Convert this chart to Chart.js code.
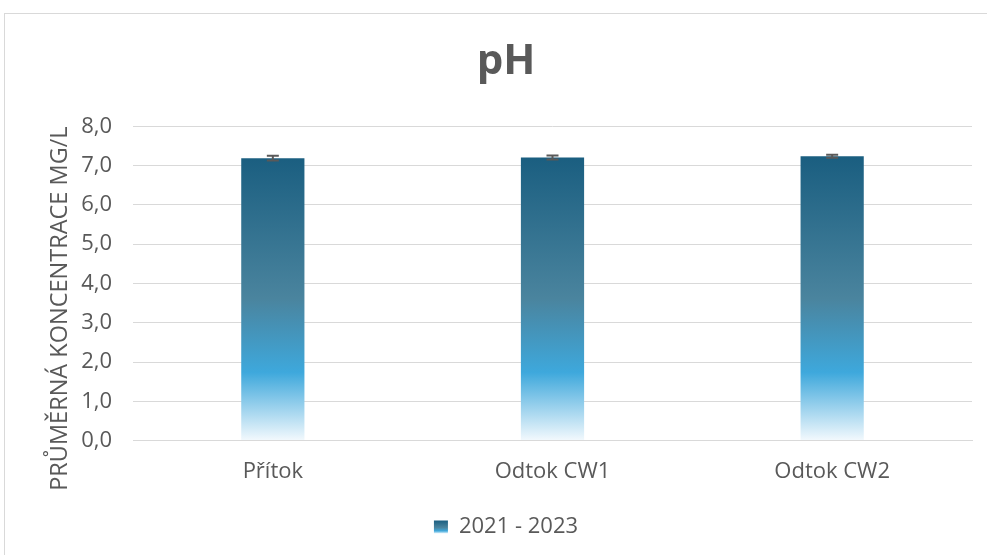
<!DOCTYPE html>
<html>
<head>
<meta charset="utf-8">
<script src="https://cdn.jsdelivr.net/npm/chart.js@4"></script>
<style>
  html, body { margin: 0; padding: 0; background: #fff; overflow: hidden; }
  #wrap { position: relative; width: 987px; height: 555px; }
  #frame { position: absolute; left: 4px; top: 13px; width: 1100px; height: 700px; border: 1px solid #d9d9d9; box-sizing: border-box; }
  canvas { position: absolute; left: 0; top: 0; }
</style>
</head>
<body>
<div id="wrap">
  <div id="frame"></div>
  <canvas id="c" width="987" height="555"></canvas>
</div>
<script>
const categories = ["Přítok", "Odtok CW1", "Odtok CW2"];
const seriesLabel = "2021 - 2023";
const values = [7.19, 7.21, 7.24];
const errors = [0.06, 0.05, 0.04];
const yTicks = [0, 1, 2, 3, 4, 5, 6, 7, 8];

const FONT = "'Open Sans', Roboto, sans-serif";
const GRAY = "#595959";

function barGradient(ctx, yScale) {
  const top = yScale.getPixelForValue(Math.max(...values));
  const bottom = yScale.getPixelForValue(0);
  const g = ctx.createLinearGradient(0, top, 0, bottom);
  g.addColorStop(0, "#1A5E80");
  g.addColorStop(0.5, "#4A849E");
  g.addColorStop(0.76, "#3EA8DC");
  g.addColorStop(0.82, "#6BBCE4");
  g.addColorStop(1, "#F3F9FD");
  return g;
}

const errorBars = {
  id: "errorBars",
  afterDatasetsDraw(chart) {
    const ctx = chart.ctx;
    const meta = chart.getDatasetMeta(0);
    const y = chart.scales.y;
    ctx.save();
    ctx.strokeStyle = GRAY;
    ctx.lineWidth = 2;
    meta.data.forEach((bar, i) => {
      const x = bar.x;
      const yTop = y.getPixelForValue(values[i] + errors[i]);
      const yBot = y.getPixelForValue(values[i] - errors[i]);
      ctx.beginPath();
      ctx.moveTo(x, yTop); ctx.lineTo(x, yBot);
      ctx.moveTo(x - 6, yTop); ctx.lineTo(x + 6, yTop);
      ctx.moveTo(x - 6, yBot); ctx.lineTo(x + 6, yBot);
      ctx.stroke();
    });
    ctx.restore();
  }
};

const legendGradient = {
  id: "legendGradient",
  beforeDraw(chart) {
    const lg = chart.legend;
    if (!lg || !lg.legendHitBoxes || !lg.legendHitBoxes.length || !lg.legendItems.length) return;
    const hb = lg.legendHitBoxes[0];
    const bh = 13;
    const top = hb.top + (hb.height - bh) / 2;
    const g = chart.ctx.createLinearGradient(0, top, 0, top + bh);
    g.addColorStop(0, "#1A5E80");
    g.addColorStop(0.55, "#4A849E");
    g.addColorStop(0.8, "#3EA8DC");
    g.addColorStop(1, "#E8F5FC");
    lg.legendItems[0].fillStyle = g;
  }
};

new Chart(document.getElementById("c"), {
  type: "bar",
  data: {
    labels: categories,
    datasets: [{
      label: seriesLabel,
      data: values,
      backgroundColor(context) {
        const chart = context.chart;
        if (!chart.chartArea) return "#1A5E80";
        return barGradient(chart.ctx, chart.scales.y);
      },
      borderWidth: 0,
      barPercentage: 0.226,
      categoryPercentage: 1
    }]
  },
  options: {
    responsive: false,
    animation: false,
    devicePixelRatio: 1,
    layout: { padding: { left: 40, right: 15, top: 28, bottom: 7 } },
    plugins: {
      title: {
        display: true,
        text: "pH",
        color: GRAY,
        font: { family: FONT, size: 42, weight: "bold" },
        padding: { top: 9, bottom: 39 }
      },
      legend: {
        display: true,
        position: "bottom",
        labels: {
          color: GRAY,
          font: { family: FONT, size: 22 },
          boxWidth: 14,
          boxHeight: 13,
          padding: 18,
          generateLabels(chart) {
            return [{ text: seriesLabel, fillStyle: "#1A5E80", strokeStyle: "transparent", lineWidth: 0, fontColor: GRAY, datasetIndex: 0 }];
          }
        }
      },
      tooltip: { enabled: false }
    },
    scales: {
      x: {
        grid: { display: false, drawTicks: false },
        border: { display: true, color: "#d9d9d9", width: 1 },
        ticks: { color: GRAY, font: { family: FONT, size: 22 }, padding: 18 },
        afterFit(scale) { scale.height -= 5; }
      },
      y: {
        min: 0,
        max: 8,
        afterBuildTicks(scale) { scale.ticks = yTicks.map(v => ({ value: v })); },
        afterFit(scale) { scale.width = 93; },
        grid: { color: "#d9d9d9", drawTicks: false, lineWidth: 1 },
        border: { display: false },
        ticks: {
          color: GRAY,
          font: { family: FONT, size: 22 },
          padding: 21,
          callback: v => v.toFixed(1).replace(".", ",")
        },
        title: {
          display: true,
          text: "PRŮMĚRNÁ KONCENTRACE MG/L",
          color: GRAY,
          align: "end",
          font: { family: FONT, size: 23.5 },
          padding: { top: 6, bottom: 8 }
        }
      }
    }
  },
  plugins: [errorBars, legendGradient]
});
</script>
</body>
</html>
